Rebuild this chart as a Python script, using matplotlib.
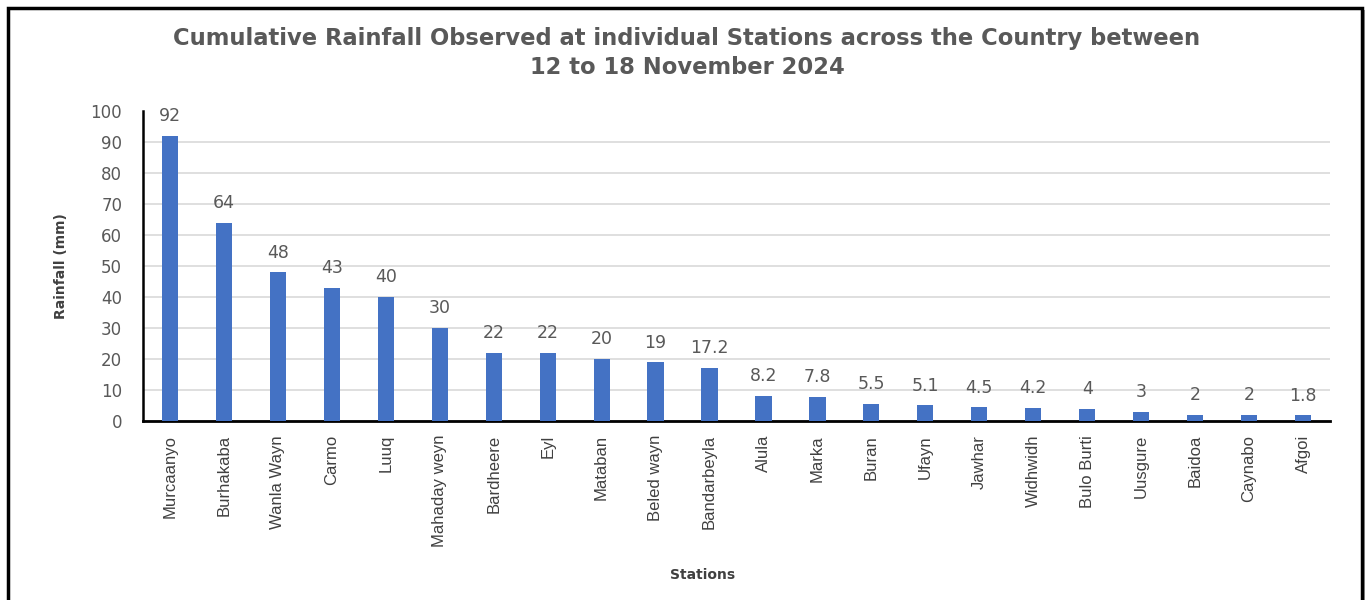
import numpy as np
import matplotlib.pyplot as plt
from matplotlib.patches import Rectangle

stations = ["Murcaanyo", "Burhakaba", "Wanla Wayn", "Carmo", "Luuq", "Mahaday weyn",
            "Bardheere", "Eyl", "Mataban", "Beled wayn", "Bandarbeyla", "Alula", "Marka",
            "Buran", "Ufayn", "Jawhar", "Widhwidh", "Bulo Burti", "Uusgure", "Baidoa",
            "Caynabo", "Afgoi"]
rainfall = [92, 64, 48, 43, 40, 30, 22, 22, 20, 19, 17.2, 8.2, 7.8, 5.5, 5.1, 4.5,
            4.2, 4, 3, 2, 2, 1.8]
value_labels = ["92", "64", "48", "43", "40", "30", "22", "22", "20", "19", "17.2", "8.2",
                "7.8", "5.5", "5.1", "4.5", "4.2", "4", "3", "2", "2", "1.8"]

W, H = 1367, 600
fig = plt.figure(figsize=(W / 100, H / 100), dpi=100)
ax = fig.add_axes([143 / W, 1 - 421 / H, (1330 - 143) / W, (421 - 111) / H])

gray = "#595959"
x = np.arange(len(stations))
ax.bar(x, rainfall, width=0.3, color="#4472C4", zorder=3)

for xi, v, lab in zip(x, rainfall, value_labels):
    ax.text(xi, v + 3.4, lab, ha="center", va="bottom", fontsize=12.5, color=gray)

ax.set_xlim(-0.5, len(stations) - 0.5)
ax.set_ylim(0, 100)
ax.set_yticks(range(0, 101, 10))
ax.grid(axis="y", color="#d9d9d9", linewidth=1.2, zorder=0)
ax.yaxis.get_gridlines()[-1].set_visible(False)
ax.set_xticks(x)
ax.set_xticklabels(stations, rotation=90, fontsize=12, color="#404040",
                   family="Liberation Sans")
ax.tick_params(axis="y", labelsize=12, labelcolor=gray, length=0, pad=15)
ax.tick_params(axis="x", length=0, pad=10)

for s in ["top", "right"]:
    ax.spines[s].set_visible(False)
ax.spines["left"].set_linewidth(1.8)
ax.spines["bottom"].set_linewidth(2)

ax.set_ylabel("Rainfall (mm)", fontsize=10, fontweight="bold", color="#404040",
              labelpad=16)
fig.text(703 / W, 1 - 575 / H, "Stations", ha="center", va="center",
         fontsize=10, fontweight="bold", color="#404040")
fig.text(687 / W, 1 - 53 / H,
         "Cumulative Rainfall Observed at individual Stations across the Country between\n12 to 18 November 2024",
         ha="center", va="center", fontsize=16.3, fontweight="bold", color=gray,
         linespacing=1.3)

# outer frame
fig.patches.append(Rectangle((1366 / W - 0.004, -0.1), 0.003, 1.1 - 10 / H,
                             transform=fig.transFigure, facecolor="#a0a0a0",
                             edgecolor="none"))
fig.patches.append(Rectangle((8 / W, -0.1), (1362 - 8) / W, 1.1 - 8 / H,
                             transform=fig.transFigure, fill=False,
                             edgecolor="black", linewidth=2.5))

fig.savefig("out.png", dpi=100)
